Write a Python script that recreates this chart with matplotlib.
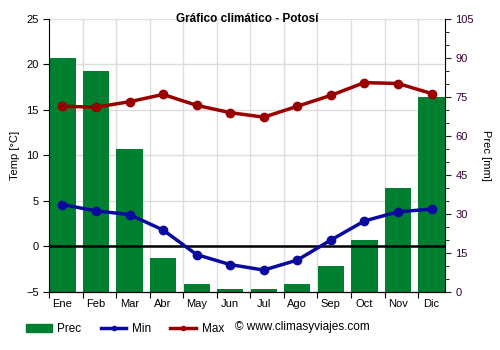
import matplotlib.pyplot as plt
import numpy as np
from matplotlib.patches import Patch
from matplotlib.lines import Line2D
from matplotlib.ticker import MultipleLocator

plt.rcParams['font.family'] = ['Liberation Sans', 'DejaVu Sans']

months = ['Ene', 'Feb', 'Mar', 'Abr', 'May', 'Jun', 'Jul', 'Ago', 'Sep', 'Oct', 'Nov', 'Dic']
prec = [90, 85, 55, 13, 3, 1, 1, 3, 10, 20, 40, 75]
t_min = [4.6, 3.9, 3.5, 1.8, -0.9, -2.0, -2.6, -1.5, 0.7, 2.8, 3.8, 4.1]
t_max = [15.4, 15.3, 15.9, 16.7, 15.5, 14.7, 14.2, 15.4, 16.6, 18.0, 17.9, 16.8]

c_bar = '#007f31'
c_min = '#0a0a9e'
c_max = '#990000'

fig = plt.figure(figsize=(5, 3.5), dpi=100)
ax = fig.add_axes([0.098, 0.166, 0.792, 0.780])
ax2 = ax.twinx()

x = np.arange(len(months))

# bars on the right axis, drawn behind the temperature lines
ax2.bar(x, prec, width=0.78, color=c_bar, zorder=1)
ax2.set_ylim(0, 105)
ax2.yaxis.set_major_locator(MultipleLocator(15))
ax2.yaxis.set_minor_locator(MultipleLocator(5))
ax2.set_ylabel('Prec [mm]', fontsize=8, rotation=270, labelpad=12)
ax2.tick_params(axis='y', labelsize=8, length=4, colors='#222222', labelcolor='#330033')
ax2.tick_params(axis='y', which='minor', length=3)

ax.set_zorder(ax2.get_zorder() + 1)
ax.patch.set_visible(False)

ax.axhline(0, color='black', linewidth=1.8, zorder=2)
ax.plot(x, t_min, color=c_min, linewidth=2.5, marker='o', markersize=6, zorder=4)
ax.plot(x, t_max, color=c_max, linewidth=2.5, marker='o', markersize=6, zorder=4)

ax.set_xlim(-0.4, 11.4)
ax.set_ylim(-5, 25)
ax.yaxis.set_major_locator(MultipleLocator(5))
ax.set_ylabel('Temp [°C]', fontsize=8)
ax.tick_params(axis='y', labelsize=8, length=4)

# ticks at month boundaries, labels at month centres
ax.set_xticks(np.arange(12) - 0.4)
ax.set_xticklabels([])
ax.set_xticks(x, minor=True)
ax.set_xticklabels(months, minor=True, fontsize=8)
ax.tick_params(axis='x', which='major', length=4)
ax.tick_params(axis='x', which='minor', length=0, pad=5)

# grid drawn on the back axes so it sits under the bars
for xv in np.arange(1, 12) - 0.4:
    ax2.axvline(xv, color='#dddddd', linewidth=1, zorder=0)
for yv in range(-5, 26, 5):
    ax2.axhline((yv + 5) * 3.5, color='#dddddd', linewidth=1, zorder=0)

for a in (ax, ax2):
    a.spines['top'].set_visible(False)
ax2.spines['left'].set_visible(False)
ax.spines['right'].set_visible(False)

ax.set_title('Gráfico climático - Potosí', fontsize=8.5, fontweight='bold', pad=-2, y=1.0)

handles = [
    Patch(color=c_bar, label='Prec'),
    Line2D([0], [0], color=c_min, linewidth=2.5, marker='o', markersize=3, label='Min'),
    Line2D([0], [0], color=c_max, linewidth=2.5, marker='o', markersize=3, label='Max'),
]
fig.legend(handles=handles, loc='lower left', bbox_to_anchor=(0.03, 0.012), ncol=3,
           frameon=False, fontsize=8.5, handlelength=2.2, handletextpad=0.5, columnspacing=1.6)
fig.text(0.47, 0.067, '© www.climasyviajes.com', fontsize=8.5, va='center')

fig.savefig('out.png', dpi=100)
